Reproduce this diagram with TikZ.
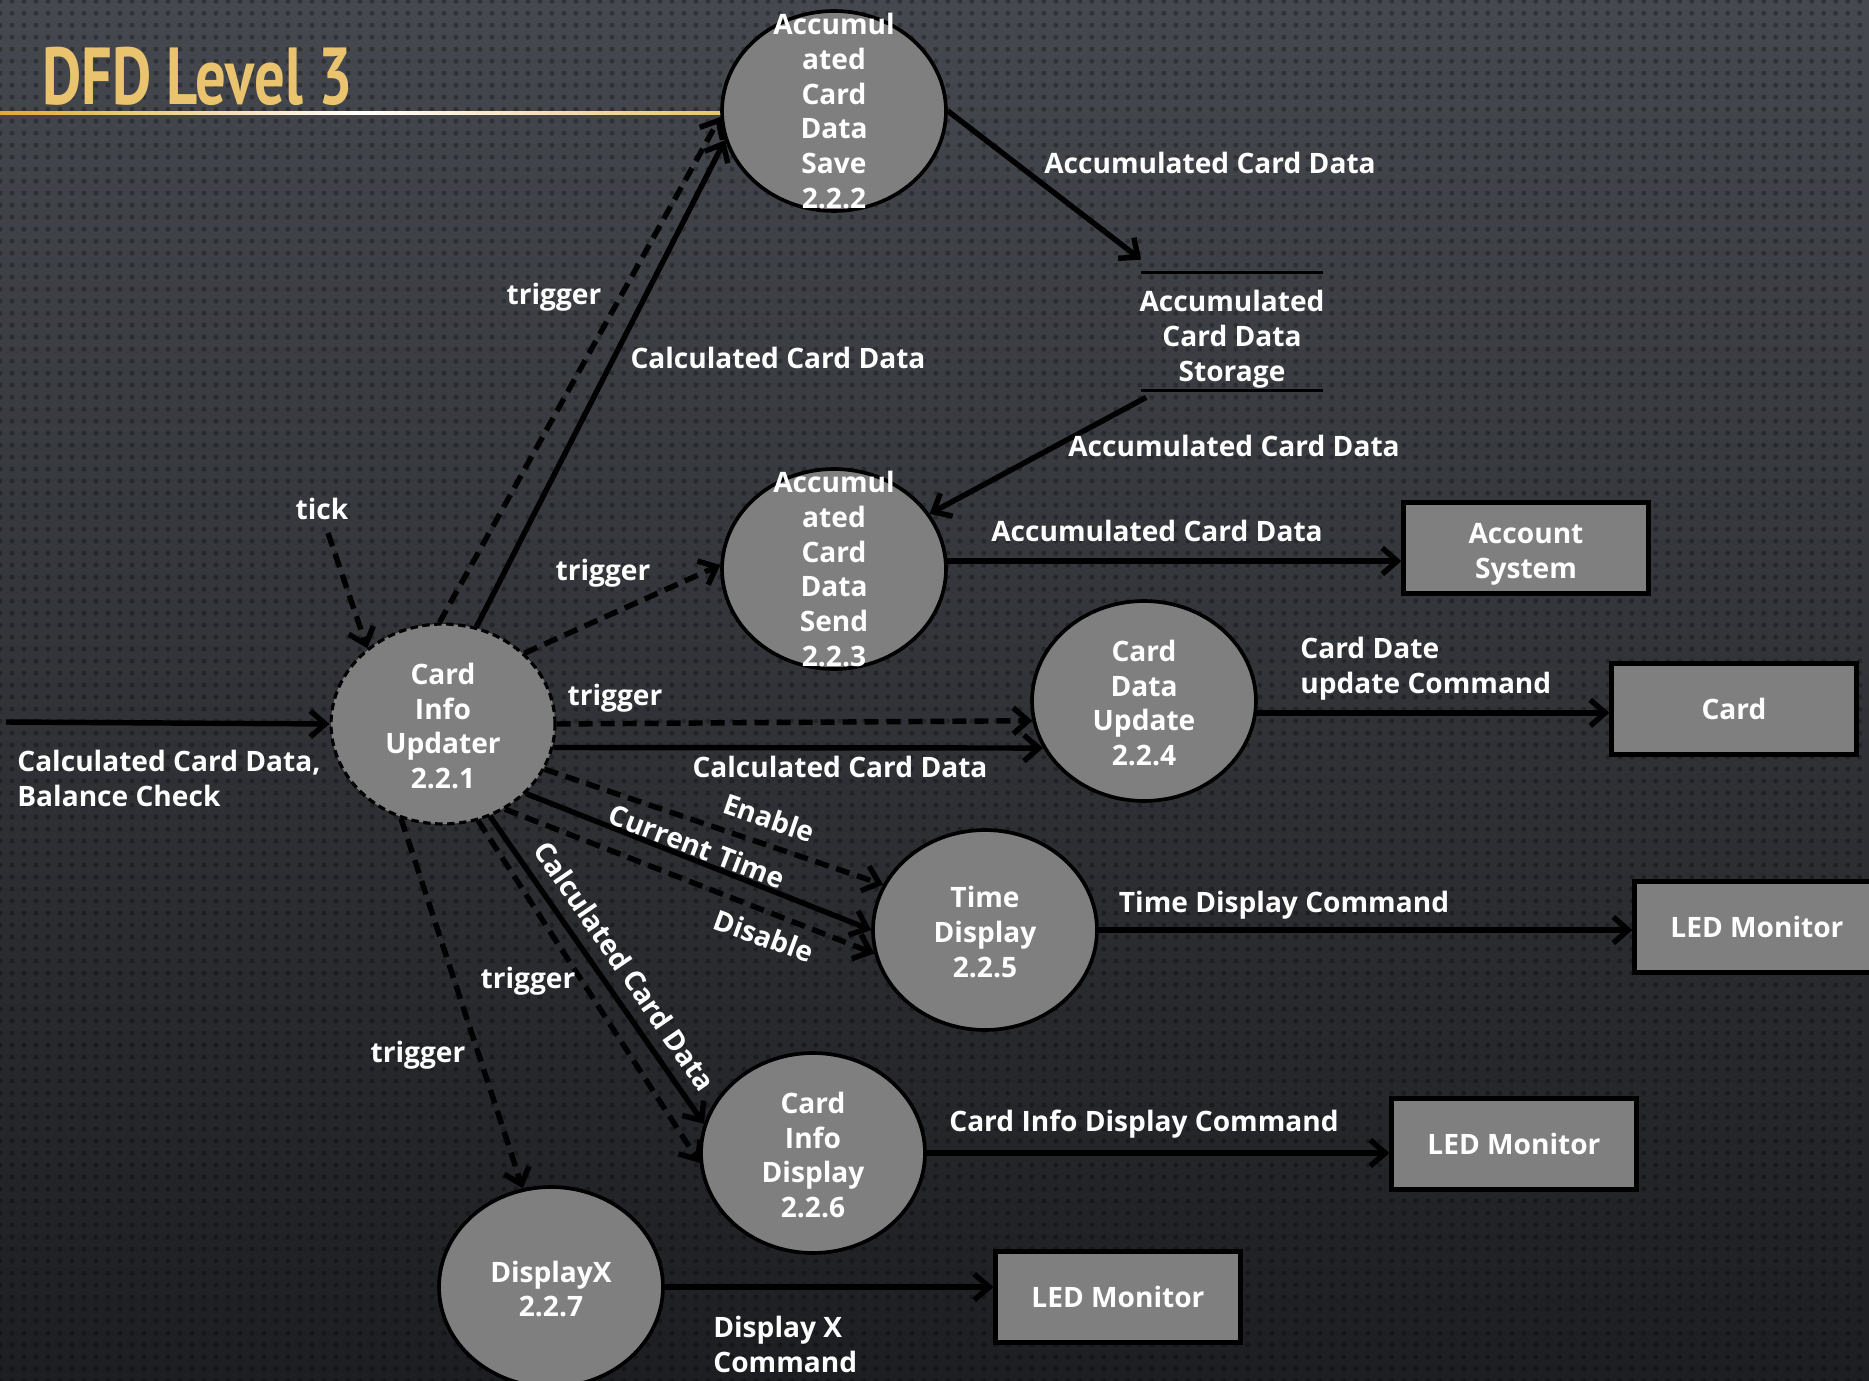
\documentclass[tikz,border=0pt]{standalone}
\usepackage{fontspec}
\setmainfont{Open Sans}
\newfontfamily\titlefont{PT Sans}
\usetikzlibrary{arrows.meta,shapes.geometric,calc,patterns.meta}
\definecolor{procfill}{HTML}{7F7F7F}
\definecolor{bgtop}{HTML}{45484E}
\definecolor{bgbot}{HTML}{1D1E21}
\definecolor{goldA}{HTML}{E2A834}
\definecolor{goldB}{HTML}{F3E3B4}
\begin{document}
\begin{tikzpicture}[x=0.02cm,y=0.02cm,
  lbl/.style={font=\fontsize{16}{19.9}\selectfont\bfseries, text=white, inner sep=0pt, align=center},
  proc/.style={ellipse, draw=black, line width=2.1pt, fill=procfill, minimum width=4.48cm, minimum height=4cm, inner sep=0pt},
  procdash/.style={proc, line width=1.8pt, dash pattern=on 0.15cm off 0.09cm},
  ext/.style={rectangle, draw=black, line width=2.4pt, fill=procfill, minimum width=4.9cm, minimum height=1.82cm, lbl},
  flow/.style={draw=black, line width=3.1pt, -{Straight Barb[length=0.3cm,width=0.52cm]}},
  dflow/.style={flow, dash pattern=on 0.28cm off 0.16cm},
  storeline/.style={draw=black, line width=2pt},
]
% background
\fill[top color=bgtop, bottom color=bgbot] (0,0) rectangle (1869,-1381);
\useasboundingbox (0,0) rectangle (1869,-1381);
\clip (0,0) rectangle (1869,-1381);
\fill[pattern={Dots[distance=0.24cm,radius=0.05cm]}, pattern color=black, opacity=0.28] (0,0) rectangle (1869,-1381);

% title
\shade[left color=goldA, right color=goldA!70!white, middle color=white] (0,-111.5) rectangle (721,-115);
\node[anchor=west, inner sep=0pt, xscale=0.75, font=\titlefont\fontsize{46}{46}\selectfont\bfseries, text=goldA!55!goldB] (title) at (42,-76) {DFD Level 3};

% processes
\node[procdash] (cu) at (443,-724) {};
\node[proc] (save) at (834,-111) {};
\node[proc] (send) at (834,-569) {};
\node[proc] (du) at (1144,-701) {};
\node[proc] (td) at (985,-930) {};
\node[proc] (cid) at (813,-1153) {};
\node[proc] (dx) at (551,-1287) {};

\node[lbl] at ([yshift=-0.04cm]cu.center) {Card\\Info\\Updater\\2.2.1};
\node[lbl] at (save) {Accumul\\ated\\Card\\Data\\Save\\2.2.2};
\node[lbl] at (send) {Accumul\\ated\\Card\\Data\\Send\\2.2.3};
\node[lbl] at ([yshift=-0.04cm]du.center) {Card\\Data\\Update\\2.2.4};
\node[lbl] at ([yshift=-0.04cm]td.center) {Time\\Display\\2.2.5};
\node[lbl] at ([yshift=-0.04cm]cid.center) {Card\\Info\\Display\\2.2.6};
\node[lbl] at ([yshift=-0.04cm]dx.center) {DisplayX\\2.2.7};

% external entities
\node[ext] (acc) at (1526,-548) {};
\node[lbl] at ([yshift=-0.13cm]acc.center) {Account\\System};
\node[ext] (card) at (1734,-709) {Card};
\node[ext] (led1) at (1757,-927) {LED Monitor};
\node[ext] (led2) at (1514,-1144) {LED Monitor};
\node[ext] (led3) at (1118,-1297) {LED Monitor};

% data store
\node[minimum width=3.62cm, minimum height=2.34cm, inner sep=0pt] (store) at (1232,-331.5) {};
\draw[storeline] (store.north west) -- (store.north east);
\draw[storeline] (store.south west) -- (store.south east);
\node[lbl] at ([yshift=-0.16cm]store.center) {Accumulated\\Card Data\\Storage};

% connectors
\coordinate (src) at (6,-722);
\coordinate (tk) at (328,-533);
\draw[flow] (src) -- (cu.west);
\draw[dflow] (tk) -- (cu.135);
\draw[dflow] (cu.92) -- (save.183);
\draw[flow] (cu.71) -- (save.195);
\draw[flow] (save.east) -- ([yshift=0.26cm]store.north west);
\draw[flow] ([xshift=0.1cm,yshift=-0.14cm]store.south west) -- (send.30);
\draw[flow] (send.4) -- (send.4 -| acc.west);
\draw[dflow] (cu.41) -- (send.178);
\draw[dflow] (cu.east) -- (du.190);
\draw[flow] (cu.-12) -- (du.205);
\draw[flow] (du.-6) -- (du.-6 -| card.west);
\draw[dflow] (cu.-24) -- (td.156);
\draw[flow] (cu.-40) -- (td.180);
\draw[dflow] (cu.-54) -- (td.192);
\draw[flow] (td.east) -- (td.east -| led1.west);
\draw[flow] (cu.-63) -- (cid.165);
\draw[dflow] (cu.-70) -- (cid.185);
\draw[dflow] (cu.246) -- (dx.106);
\draw[flow] (cid.east) -- (cid.east -| led2.west);
\draw[flow] (dx.east) -- (dx.east -| led3.west);

% labels
\node[lbl, anchor=west, align=left] at (17,-778) {Calculated Card Data,\\Balance Check};
\node[lbl] at (322,-509) {tick};
\node[lbl] at (554,-297) {trigger};
\node[lbl] at (778,-358) {Calculated Card Data};
\node[lbl] at (1210,-163) {Accumulated Card Data};
\node[lbl] at (1234,-446) {Accumulated Card Data};
\node[lbl] at (1157,-531) {Accumulated Card Data};
\node[lbl] at (603,-573) {trigger};
\node[lbl] at (615,-698) {trigger};
\node[lbl] at (840,-767) {Calculated Card Data};
\node[lbl, anchor=west, align=left] at (1300,-669) {Card Date\\update Command};
\node[lbl, rotate=-19] at (769,-818) {Enable};
\node[lbl, rotate=-21] at (697,-846) {Current Time};
\node[lbl, rotate=-20] at (764,-936) {Disable};
\node[lbl] at (1284,-905) {Time Display Command};
\node[lbl, rotate=-55.5] at (625,-966) {Calculated Card Data};
\node[lbl] at (528,-981) {trigger};
\node[lbl] at (418,-1055) {trigger};
\node[lbl] at (1144,-1124) {Card Info Display Command};
\node[lbl, anchor=west, align=left] at (713,-1344) {Display X\\Command};
\end{tikzpicture}
\end{document}
